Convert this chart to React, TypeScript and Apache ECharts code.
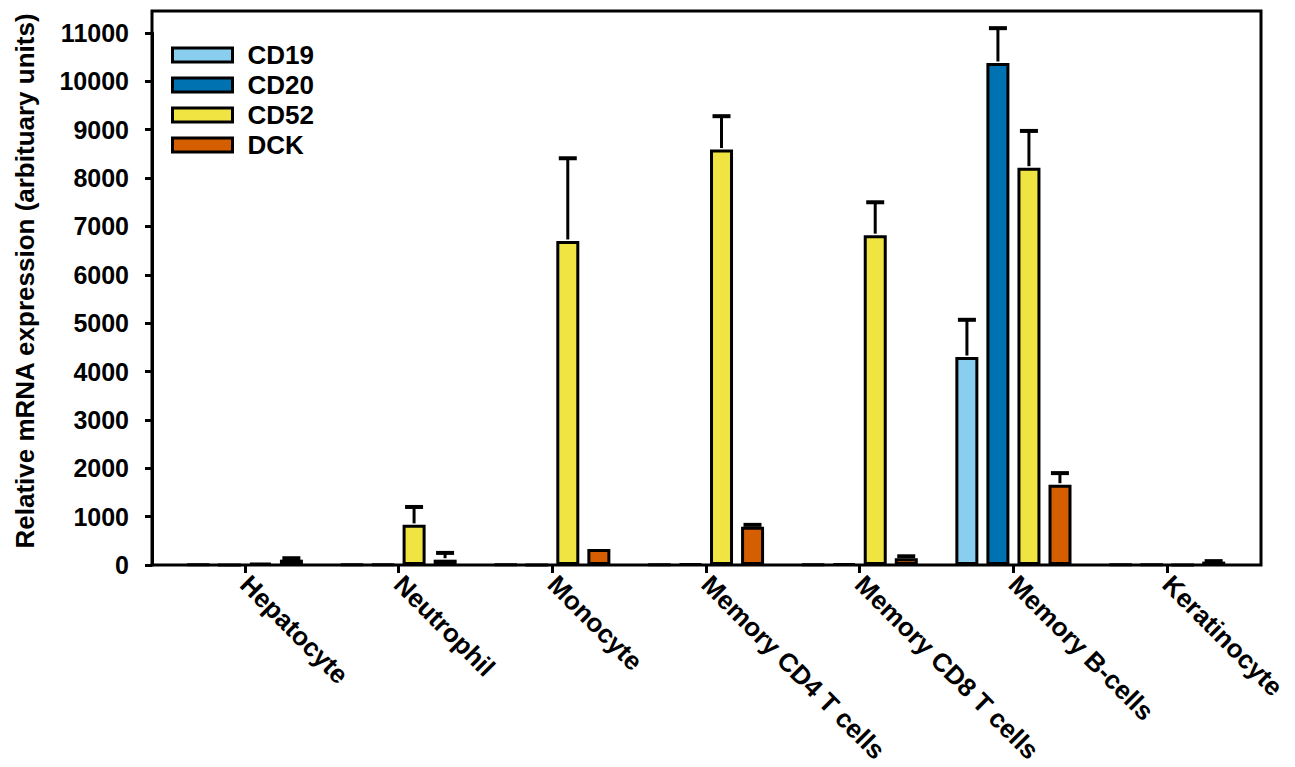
import React, { useEffect, useRef } from "react";
import * as echarts from "echarts";

const categories = [
  "Hepatocyte",
  "Neutrophil",
  "Monocyte",
  "Memory CD4 T cells",
  "Memory CD8 T cells",
  "Memory B-cells",
  "Keratinocyte",
];
const seriesNames = ["CD19", "CD20", "CD52", "DCK"];
const colors = ["#89CEEF", "#0072B2", "#F0E442", "#D55E00"];

const cd19 = [15, 10, 10, 10, 10, 4300, 10];
const cd20 = [0, 10, 0, 20, 25, 10380, 10];
const cd52 = [40, 830, 6700, 8590, 6820, 8215, 0];
const dck = [110, 110, 330, 790, 140, 1660, 70];

const cd19Err = [0, 0, 0, 0, 0, 770, 0];
const cd20Err = [0, 0, 0, 0, 0, 720, 0];
const cd52Err = [0, 370, 1710, 690, 680, 760, 0];
const dckErr = [30, 140, 0, 40, 40, 240, 10];

const yTicks = [0, 1000, 2000, 3000, 4000, 5000, 6000, 7000, 8000, 9000, 10000, 11000];

const FONT = "Liberation Sans, Arial, sans-serif";
const BAR_W = 23;
const BAR_GAP_PX = 8;

export default function App() {
  const ref = useRef<HTMLDivElement>(null);
  useEffect(() => {
    if (!ref.current) return;
    const chart = echarts.init(ref.current, undefined, { renderer: "svg" });
    const values = [cd19, cd20, cd52, dck];
    const errs = [cd19Err, cd20Err, cd52Err, dckErr];
    const barSeries = seriesNames.map((name, i) => ({
      name,
      type: "bar",
      data: values[i],
      barWidth: BAR_W,
      barGap: `${Math.round((BAR_GAP_PX / BAR_W) * 100)}%`,
      itemStyle: { color: colors[i], borderColor: "#000", borderWidth: 3 },
      z: 2,
    }));
    const errSeries = seriesNames.map((name, i) => ({
      name: name + " error",
      type: "custom",
      z: 3,
      encode: { x: 0, y: 1 },
      data: categories.map((_, c) => [c, values[i][c], errs[i][c]]),
      renderItem: (params: any, api: any) => {
        const ci = api.value(0);
        const v = api.value(1);
        const e = api.value(2);
        if (!e) return null;
        const base = api.coord([ci, v]);
        const top = api.coord([ci, v + e]);
        const offset = (i - 1.5) * (BAR_W + BAR_GAP_PX);
        const x = base[0] + offset;
        return {
          type: "group",
          children: [
            {
              type: "line",
              shape: { x1: x, y1: base[1] - 1.5, x2: x, y2: top[1] },
              style: { stroke: "#000", lineWidth: 3 },
            },
            {
              type: "line",
              shape: { x1: x - 9, y1: top[1], x2: x + 9, y2: top[1] },
              style: { stroke: "#000", lineWidth: 4 },
            },
          ],
        };
      },
    }));

    chart.setOption({
      animation: false,
      backgroundColor: "#fff",
      textStyle: { fontFamily: FONT },
      grid: { left: 168, top: 33, width: 1076, height: 532 },
      legend: {
        data: seriesNames,
        orient: "vertical",
        left: 166,
        top: 37,
        icon: "rect",
        itemWidth: 60,
        itemHeight: 14,
        itemGap: 4,
        itemStyle: { borderColor: "#000", borderWidth: 3 },
        textStyle: {
          fontFamily: FONT,
          fontSize: 26,
          fontWeight: "bold",
          color: "#000",
          padding: [0, 0, 0, 10],
        },
      },
      xAxis: {
        type: "category",
        data: categories,
        axisLine: { show: false },
        axisTick: {
          show: true,
          alignWithLabel: true,
          length: 8,
          lineStyle: { color: "#000", width: 3 },
        },
        axisLabel: {
          rotate: -45,
          margin: 15,
          color: "#000",
          fontFamily: FONT,
          fontSize: 26,
          fontWeight: "bold",
          interval: 0,
        },
        splitLine: { show: false },
      },
      yAxis: {
        type: "value",
        min: yTicks[0],
        max: yTicks[yTicks.length - 1],
        interval: 1000,
        offset: 16,
        name: "Relative mRNA expression (arbituary units)",
        nameLocation: "middle",
        nameGap: 114,
        nameTextStyle: {
          fontFamily: FONT,
          fontSize: 26,
          fontWeight: "bold",
          color: "#000",
          padding: [0, 0, 0, 36],
        },
        axisLine: { show: true, lineStyle: { color: "#000", width: 3 } },
        axisTick: { show: true, length: 7, lineStyle: { color: "#000", width: 3 } },
        axisLabel: {
          margin: 23,
          color: "#000",
          fontFamily: FONT,
          fontSize: 25,
          fontWeight: "bold",
          formatter: (v: number) => String(v),
        },
        splitLine: { show: false },
      },
      graphic: [
        {
          type: "rect",
          shape: { x: 152, y: 11, width: 1109, height: 554 },
          style: { fill: "none", stroke: "#000", lineWidth: 3 },
          z: 100,
          silent: true,
        },
      ],
      series: [...barSeries, ...errSeries],
    });
    return () => chart.dispose();
  }, []);
  return (
    <div
      ref={ref}
      style={{ position: "fixed", left: 0, top: 0, width: 1295, height: 767 }}
    />
  );
}
